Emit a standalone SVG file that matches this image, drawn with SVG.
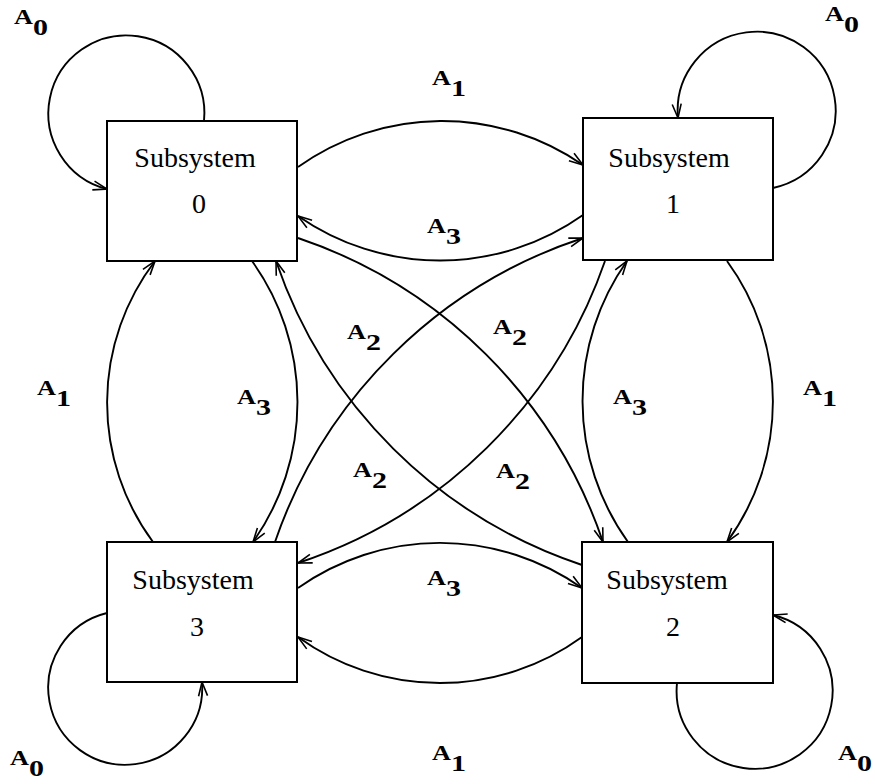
<svg xmlns="http://www.w3.org/2000/svg" width="875" height="784" viewBox="0 0 875 784">
  <defs>
    <style>
      .box { fill: #fff; stroke: #000; stroke-width: 2; }
      .name { font-family: "Liberation Serif", "Times New Roman", serif; font-size: 28px; fill: #000; text-anchor: middle; }
      .edge { fill: none; stroke: #000; stroke-width: 1.9; marker-end: url(#arr); }
      .lbl { font-family: "Liberation Serif", "Times New Roman", serif; font-weight: bold; font-size: 21px; fill: #000; }
      .sub { font-size: 24px; }
    </style>
    <marker id="arr" markerUnits="userSpaceOnUse" viewBox="-16 -8 18 16" markerWidth="18" markerHeight="16" refX="0" refY="0" orient="auto" overflow="visible">
      <path d="M-14,-4.5 L0,0 L-14,4.5" fill="none" stroke="#000" stroke-width="1.6"/>
    </marker>
  </defs>

  <rect width="875" height="784" fill="#fff"/>

  <!-- connectors -->
  <g id="connectors">
    <!-- self loops -->
    <path class="edge" d="M204,121 A78,78 0 1 0 107,189"/>
    <path class="edge" d="M773,188 A79,79 0 1 0 678,118"/>
    <path class="edge" d="M107,613 A77,77 0 1 0 202,682"/>
    <path class="edge" d="M677,683 A78,78 0 1 0 773,615"/>
    <!-- top pair -->
    <path class="edge" d="M298,167 A248,248 0 0 1 583,165"/>
    <path class="edge" d="M583,215 A248,248 0 0 1 298,216"/>
    <!-- left pair -->
    <path class="edge" d="M153,542 A234,234 0 0 1 155,261"/>
    <path class="edge" d="M252,261 A242,242 0 0 1 253,542"/>
    <!-- right pair -->
    <path class="edge" d="M628,542 A242,242 0 0 1 627,261"/>
    <path class="edge" d="M727,261 A238,238 0 0 1 727,542"/>
    <!-- bottom pair -->
    <path class="edge" d="M298,588 A246,246 0 0 1 582,588"/>
    <path class="edge" d="M582,637 A242,242 0 0 1 298,637"/>
    <!-- diagonals -->
    <path class="edge" d="M298,238 A486,486 0 0 1 603,542"/>
    <path class="edge" d="M582,565 A486,486 0 0 1 276,261"/>
    <path class="edge" d="M275,542 A486,486 0 0 1 583,238"/>
    <path class="edge" d="M605,261 A486,486 0 0 1 298,563"/>
  </g>

  <!-- subsystems -->
  <g id="sub0">
    <rect class="box" x="107" y="121" width="190" height="140"/>
    <text class="name" x="195" y="167">Subsystem</text>
    <text class="name" x="199" y="213">0</text>
  </g>
  <g id="sub1">
    <rect class="box" x="583" y="118" width="190" height="142"/>
    <text class="name" x="669" y="167">Subsystem</text>
    <text class="name" x="673" y="213">1</text>
  </g>
  <g id="sub3">
    <rect class="box" x="107" y="542" width="190" height="140"/>
    <text class="name" x="193" y="589">Subsystem</text>
    <text class="name" x="197" y="636">3</text>
  </g>
  <g id="sub2">
    <rect class="box" x="582" y="542" width="191" height="141"/>
    <text class="name" x="667" y="589">Subsystem</text>
    <text class="name" x="673" y="636">2</text>
  </g>

  <!-- transition labels -->
  <g id="labels">
    <text class="lbl" transform="translate(14,24) scale(1.25,1)">A<tspan class="sub" dy="11">0</tspan></text>
    <text class="lbl" transform="translate(825,21) scale(1.25,1)">A<tspan class="sub" dy="11">0</tspan></text>
    <text class="lbl" transform="translate(10,765) scale(1.25,1)">A<tspan class="sub" dy="11">0</tspan></text>
    <text class="lbl" transform="translate(838,760) scale(1.25,1)">A<tspan class="sub" dy="11">0</tspan></text>

    <text class="lbl" transform="translate(432,85) scale(1.25,1)">A<tspan class="sub" dy="11">1</tspan></text>
    <text class="lbl" transform="translate(427,233) scale(1.25,1)">A<tspan class="sub" dy="11">3</tspan></text>

    <text class="lbl" transform="translate(37,395) scale(1.25,1)">A<tspan class="sub" dy="11">1</tspan></text>
    <text class="lbl" transform="translate(237,404) scale(1.25,1)">A<tspan class="sub" dy="11">3</tspan></text>
    <text class="lbl" transform="translate(613,404) scale(1.25,1)">A<tspan class="sub" dy="11">3</tspan></text>
    <text class="lbl" transform="translate(803,395) scale(1.25,1)">A<tspan class="sub" dy="11">1</tspan></text>

    <text class="lbl" transform="translate(347,339) scale(1.25,1)">A<tspan class="sub" dy="11">2</tspan></text>
    <text class="lbl" transform="translate(493,334) scale(1.25,1)">A<tspan class="sub" dy="11">2</tspan></text>
    <text class="lbl" transform="translate(353,477) scale(1.25,1)">A<tspan class="sub" dy="11">2</tspan></text>
    <text class="lbl" transform="translate(496,478) scale(1.25,1)">A<tspan class="sub" dy="11">2</tspan></text>

    <text class="lbl" transform="translate(427,585) scale(1.25,1)">A<tspan class="sub" dy="11">3</tspan></text>
    <text class="lbl" transform="translate(432,760) scale(1.25,1)">A<tspan class="sub" dy="11">1</tspan></text>
  </g>
</svg>
